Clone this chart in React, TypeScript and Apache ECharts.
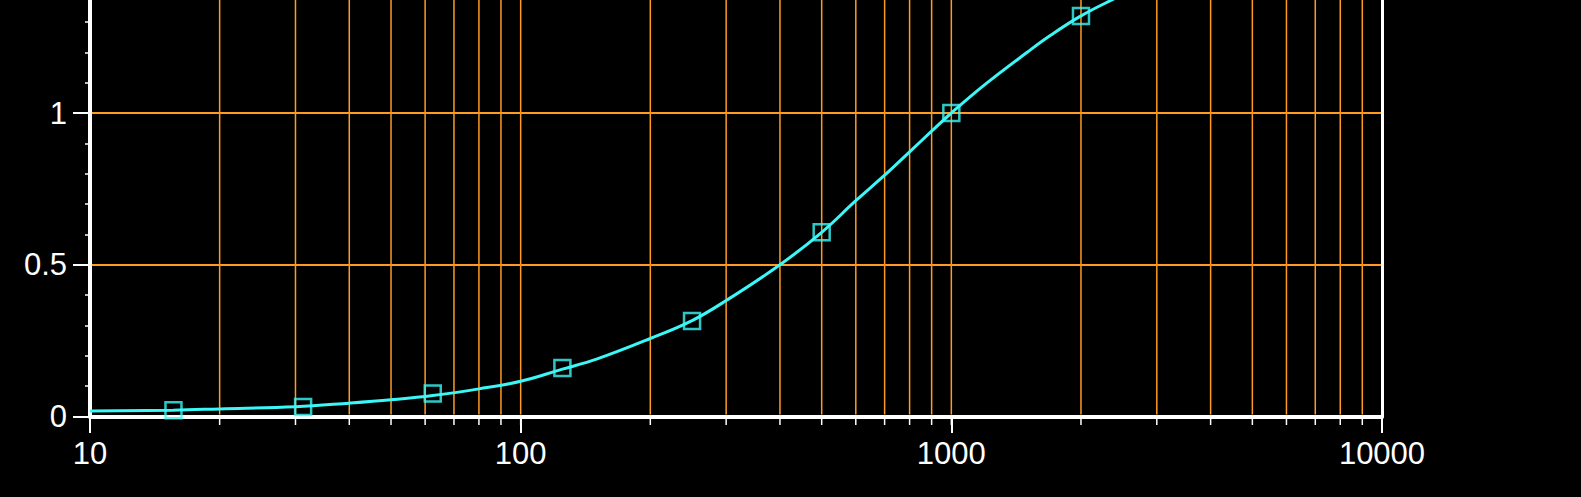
import React, { useEffect, useRef } from "react";
import * as echarts from "echarts";

// Measured points (square markers)
const markerX = [15.625, 31.25, 62.5, 125, 250, 500, 1000, 2000];
const markerY = [0.021, 0.031, 0.076, 0.16, 0.315, 0.607, 1.0, 1.32];

// Fitted curve
const curveX = [10, 15.6, 20, 30, 40, 50, 62.5, 80, 100, 125, 150, 200, 250, 300, 400, 500, 600, 700, 800, 900, 1000, 1200, 1500, 1700, 2000, 2400, 2600];
const curveY = [0.018, 0.021, 0.025, 0.032, 0.044, 0.055, 0.069, 0.091, 0.116, 0.156, 0.189, 0.257, 0.316, 0.382, 0.5, 0.607, 0.711, 0.795, 0.872, 0.94, 1.0, 1.095, 1.2, 1.256, 1.32, 1.378, 1.402];

// Vertical grid lines (log minor positions)
const gridX = [20, 30, 40, 50, 60, 70, 80, 90, 100, 200, 300, 400, 500, 600, 700, 800, 900, 1000, 2000, 3000, 4000, 5000, 6000, 7000, 8000, 9000];

const X_MIN = 10;
const X_MAX = 10000;
const Y_MIN = 0;
const Y_MAX = 1.5;
const Y_INTERVAL = 0.5;

const ORANGE = "#FF9A22";
const CYAN = "#3CF7F7";
const WHITE = "#FFFFFF";
const FONT = "'Liberation Sans', Arial, sans-serif";

export default function App() {
  const ref = useRef<HTMLDivElement>(null);

  useEffect(() => {
    if (!ref.current) return;
    const chart = echarts.init(ref.current, null, { renderer: "svg" });
    chart.setOption({
      animation: false,
      backgroundColor: "#000000",
      grid: { left: 90, right: 199, top: 1.25, bottom: 80.5, outerBoundsMode: "none", containLabel: false },
      xAxis: {
        type: "log",
        logBase: 10,
        min: X_MIN,
        max: X_MAX,
        axisLine: { show: true, lineStyle: { color: WHITE, width: 4 } },
        axisTick: { show: true, length: 16.5, lineStyle: { color: WHITE, width: 2 } },
        axisLabel: {
          color: WHITE,
          fontSize: 31,
          fontFamily: FONT,
          margin: 21,
          formatter: (v: number) => String(Math.round(v)),
        },
        splitLine: { show: false },
      },
      yAxis: [
        {
          type: "value",
          min: Y_MIN,
          max: Y_MAX,
          interval: Y_INTERVAL,
          axisLine: { show: true, lineStyle: { color: WHITE, width: 4 } },
          axisTick: { show: true, length: 17, lineStyle: { color: WHITE, width: 2 } },
          minorTick: { show: true, splitNumber: 5, length: 5, lineStyle: { color: WHITE, width: 1.5 } },
          axisLabel: {
            color: WHITE,
            fontSize: 31,
            fontFamily: FONT,
            margin: 23,
            showMaxLabel: false,
          },
          splitLine: { show: true, lineStyle: { color: ORANGE, width: 2 } },
        },
        {
          type: "value",
          position: "right",
          min: Y_MIN,
          max: Y_MAX,
          interval: Y_INTERVAL,
          axisLine: { show: true, lineStyle: { color: WHITE, width: 3 } },
          axisTick: { show: false },
          axisLabel: { show: false },
          splitLine: { show: false },
        },
      ],
      series: [
        {
          type: "custom",
          z: 1,
          silent: true,
          clip: false,
          data: gridX.map((v) => [v, 0]),
          renderItem: (_params: any, api: any) => {
            const x = api.value(0);
            const top = api.coord([x, Y_MAX]);
            const bot = api.coord([x, Y_MIN]);
            return {
              type: "group",
              children: [
                {
                  type: "line",
                  shape: { x1: bot[0], y1: bot[1] - 2, x2: top[0], y2: top[1] },
                  style: { stroke: ORANGE, lineWidth: 1.5 },
                },
                {
                  type: "line",
                  shape: { x1: bot[0], y1: bot[1] + 2, x2: bot[0], y2: bot[1] + 8.5 },
                  style: { stroke: WHITE, lineWidth: 1.5 },
                },
              ],
            };
          },
        },
        {
          type: "line",
          z: 3,
          data: curveX.map((x, i) => [x, curveY[i]]),
          showSymbol: false,
          smooth: 0.4,
          lineStyle: { color: CYAN, width: 3 },
          itemStyle: { color: CYAN },
        },
        {
          type: "scatter",
          z: 4,
          data: markerX.map((x, i) => [x, markerY[i]]),
          symbol: "rect",
          symbolSize: 16,
          itemStyle: { color: "rgba(0,0,0,0)", borderColor: CYAN, borderWidth: 2.5 },
        },
      ],
    });
    return () => chart.dispose();
  }, []);

  return (
    <div
      ref={ref}
      style={{ position: "absolute", left: 0, top: -40, width: 1581, height: 537 }}
    />
  );
}
